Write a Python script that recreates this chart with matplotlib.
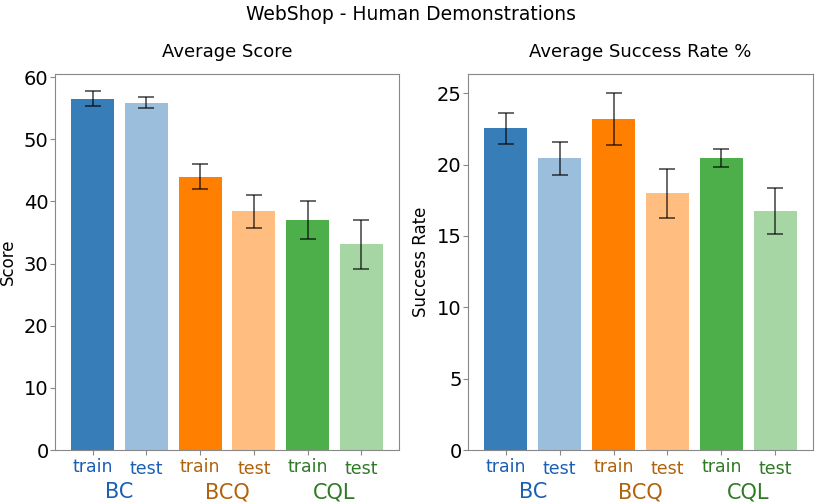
import matplotlib
matplotlib.use("Agg")
import matplotlib.pyplot as plt
import matplotlib.transforms as mtransforms

groups = ["BC", "BCQ", "CQL"]
splits = ["train", "test"]
score_mean = [56.5, 55.9, 44.0, 38.4, 37.0, 33.1]
score_err = [1.2, 0.85, 2.0, 2.6, 3.0, 3.9]
success_mean = [22.55, 20.43, 23.2, 18.0, 20.45, 16.75]
success_err = [1.1, 1.15, 1.85, 1.72, 0.62, 1.63]

base_colors = ["#377eb8", "#ff7f00", "#4daf4a"]
label_colors = ["#1a5fb4", "#b0620c", "#2f7a24"]

fig = plt.figure(figsize=(8.22, 5.04), dpi=100)
ax1 = fig.add_axes([55/822, 54/504, 344/822, 376/504])
ax2 = fig.add_axes([468/822, 54/504, 345/822, 376/504])

fig.suptitle("WebShop - Human Demonstrations", fontsize=13.5, y=0.99)

def draw(ax, means, errs, title, ylabel, ylim, yticks):
    xs = list(range(len(means)))
    for i, (m, e) in enumerate(zip(means, errs)):
        g = i // 2
        alpha = 1.0 if i % 2 == 0 else 0.5
        ax.bar(xs[i], m, width=0.8, color=base_colors[g], alpha=alpha,
               edgecolor="none", zorder=2)
        ax.errorbar(xs[i], m, yerr=e, fmt="none", ecolor="black", alpha=0.75,
                    elinewidth=1.1, capsize=6, capthick=1.1, zorder=3)
    ax.set_xlim(-0.7, 5.7)
    ax.set_ylim(*ylim)
    ax.set_yticks(yticks)
    ax.tick_params(axis="y", labelsize=14, length=3.6, pad=1, color="#888888")
    ax.set_xticks(xs)
    ax.set_xticklabels([splits[i % 2] for i in xs], fontsize=12.5)
    ax.tick_params(axis="x", length=3.6, pad=2, color="#888888")
    off = mtransforms.ScaledTranslation(0, -2/100, fig.dpi_scale_trans)
    for i, lab in enumerate(ax.get_xticklabels()):
        lab.set_color(label_colors[i // 2])
        if i % 2 == 1:
            lab.set_transform(lab.get_transform() + off)
    for sp in ax.spines.values():
        sp.set_color("#888888")
    ax.set_title(title, fontsize=13, pad=12)
    ax.set_ylabel(ylabel, fontsize=12, labelpad=5)
    trans = mtransforms.blended_transform_factory(ax.transData, ax.transAxes)
    for g, name in enumerate(groups):
        ax.text(2*g + 0.5, -0.112, name, transform=trans, ha="center",
                va="center", fontsize=15, color=label_colors[g])

draw(ax1, score_mean, score_err, "Average Score", "Score", (0, 60.5),
     [0, 10, 20, 30, 40, 50, 60])
draw(ax2, success_mean, success_err, "Average Success Rate %", "Success Rate",
     (0, 26.35), [0, 5, 10, 15, 20, 25])

fig.savefig("out.png", dpi=100)
